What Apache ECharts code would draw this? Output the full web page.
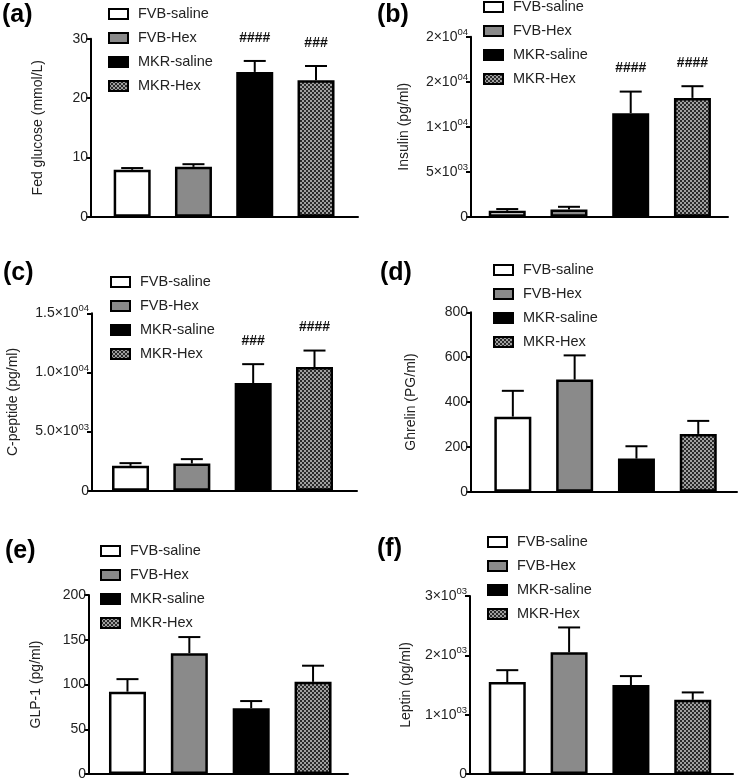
<!DOCTYPE html>
<html>
<head>
<meta charset="utf-8">
<script src="https://cdn.jsdelivr.net/npm/echarts@6/dist/echarts.min.js"></script>
<style>
html,body{margin:0;padding:0;background:#fff;}
#c{width:742px;height:781px;}
</style>
</head>
<body>
<div id="c"></div>
<script>
// ---------- data ----------
const groups = ['FVB-saline', 'FVB-Hex', 'MKR-saline', 'MKR-Hex'];

const glucoseMean = [7.9, 8.4, 24.4, 23.0];
const glucoseSem  = [0.3, 0.45, 1.85, 2.4];
const glucoseSig  = ['', '', '####', '###'];
const glucoseTicks = ['0', '10', '20', '30'];

const insulinMean = [650, 800, 11500, 13200];
const insulinSem  = [200, 300, 2400, 1300];
const insulinSig  = ['', '', '####', '####'];
const insulinTicks = ['0', '5×10^03', '1×10^04', '2×10^04', '2×10^04'];

const cpepMean = [2100, 2300, 9100, 10450];
const cpepSem  = [230, 370, 1600, 1400];
const cpepSig  = ['', '', '###', '####'];
const cpepTicks = ['0', '5.0×10^03', '1.0×10^04', '1.5×10^04'];

const ghrelinMean = [335, 500, 148, 258];
const ghrelinSem  = [115, 108, 55, 58];
const ghrelinSig  = ['', '', '', ''];
const ghrelinTicks = ['0', '200', '400', '600', '800'];

const glp1Mean = [92, 135, 73.5, 103];
const glp1Sem  = [14, 18, 8, 18];
const glp1Sig  = ['', '', '', ''];
const glp1Ticks = ['0', '50', '100', '150', '200'];

const leptinMean = [1550, 2050, 1500, 1250];
const leptinSem  = [200, 420, 150, 125];
const leptinSig  = ['', '', '', ''];
const leptinTicks = ['0', '1×10^03', '2×10^03', '3×10^03'];

// ---------- layout ----------
const panels = [
  {tag:'(a)', name:'Fed glucose (mmol/L)', mean:glucoseMean, sem:glucoseSem, sig:glucoseSig, ticks:glucoseTicks, step:10,
   grid:{left:91, top:38.7, width:267, height:178}, xMin:-0.672, xMax:3.685, nameGap:46,
   legend:{left:108, top:6}, tagPos:[2, 15]},
  {tag:'(b)', name:'Insulin (pg/ml)', mean:insulinMean, sem:insulinSem, sig:insulinSig, ticks:insulinTicks, step:5000,
   grid:{left:471, top:36.7, width:257, height:180}, xMin:-0.587, xMax:3.576, nameGap:60,
   legend:{left:483, top:-1}, tagPos:[377, 15]},
  {tag:'(c)', name:'C-peptide (pg/ml)', mean:cpepMean, sem:cpepSem, sig:cpepSig, ticks:cpepTicks, step:5000,
   grid:{left:92, top:313.3, width:265, height:177.4}, xMin:-0.628, xMax:3.693, nameGap:72,
   legend:{left:110, top:274}, tagPos:[3, 273]},
  {tag:'(d)', name:'Ghrelin (PG/ml)', mean:ghrelinMean, sem:ghrelinSem, sig:ghrelinSig, ticks:ghrelinTicks, step:200,
   grid:{left:471, top:312.3, width:266, height:179.5}, xMin:-0.677, xMax:3.627, nameGap:53,
   legend:{left:493, top:262}, tagPos:[380, 273]},
  {tag:'(e)', name:'GLP-1 (pg/ml)', mean:glp1Mean, sem:glp1Sem, sig:glp1Sig, ticks:glp1Ticks, step:50,
   grid:{left:89, top:595, width:259, height:179}, xMin:-0.622, xMax:3.565, nameGap:46,
   legend:{left:100, top:543}, tagPos:[5, 551]},
  {tag:'(f)', name:'Leptin (pg/ml)', mean:leptinMean, sem:leptinSem, sig:leptinSig, ticks:leptinTicks, step:1000,
   grid:{left:470, top:596, width:263, height:178}, xMin:-0.603, xMax:3.651, nameGap:57,
   legend:{left:487, top:534}, tagPos:[377, 549]}
];

const FONT = '"Liberation Sans", Arial, Helvetica, sans-serif';

// checker pattern for MKR-Hex
const pc = document.createElement('canvas');
pc.width = 4; pc.height = 4;
const pctx = pc.getContext('2d');
pctx.fillStyle = '#a0a0a0'; pctx.fillRect(0, 0, 4, 4);
pctx.fillStyle = '#2a2a2a'; pctx.fillRect(0, 0, 2, 2); pctx.fillRect(2, 2, 2, 2);

const fills = ['#ffffff', '#8a8a8a', '#000000', {image: pc, repeat: 'repeat'}];

function fmtTick(s) {
  if (s.indexOf('^') >= 0) {
    const p = s.split('^');
    return '{m|' + p[0] + '}{e|' + p[1] + '}';
  }
  return '{m|' + s + '}';
}

const grid = [], xAxis = [], yAxis = [], legend = [], series = [], graphic = [];

panels.forEach((P, k) => {
  grid.push(Object.assign({containLabel:false}, P.grid));
  xAxis.push({
    type:'value', gridIndex:k, min:P.xMin, max:P.xMax,
    axisLine:{show:true, onZero:false, lineStyle:{color:'#000', width:2}},
    axisTick:{show:false}, axisLabel:{show:false}, splitLine:{show:false}
  });
  const ticks = P.ticks;
  yAxis.push({
    type:'value', gridIndex:k, min:0, max:P.step * (ticks.length - 1), interval:P.step,
    name:P.name, nameLocation:'middle', nameGap:P.nameGap, nameRotate:90,
    nameTextStyle:{fontFamily:FONT, fontSize:14, color:'#222'},
    axisLine:{show:true, onZero:false, lineStyle:{color:'#000', width:2}},
    axisTick:{show:true, length:5, lineStyle:{color:'#000', width:2}},
    splitLine:{show:false},
    axisLabel:{
      margin:3, fontFamily:FONT, color:'#222',
      formatter:(v) => fmtTick(ticks[Math.round(v / P.step)] || ''),
      rich:{
        m:{fontFamily:FONT, fontSize:14, color:'#222'},
        e:{fontFamily:FONT, fontSize:9.5, color:'#222', padding:[0,0,9,0]}
      }
    }
  });
  legend.push({
    left:P.legend.left, top:P.legend.top, orient:'vertical', padding:0,
    itemWidth:19, itemHeight:10, itemGap:8, icon:'rect',
    data:groups.slice(),
    selectedMode:false,
    itemStyle:{borderColor:'#000', borderWidth:2},
    textStyle:{fontFamily:FONT, fontSize:14.5, color:'#222', lineHeight:16, padding:[0,0,0,5]}
  });
  groups.forEach((g, i) => {
    series.push({
      type:'bar', name:g, xAxisIndex:k, yAxisIndex:k,
      barWidth:37, barGap:'-100%',
      itemStyle:{color:fills[i], borderColor:'#000', borderWidth:2.5},
      data:[[i, P.mean[i]]],
      z:3, animation:false
    });
  });
  series.push({
    type:'custom', xAxisIndex:k, yAxisIndex:k, clip:false, z:2, animation:false,
    data:P.mean.map((m, i) => [i, m, P.sem[i]]),
    renderItem:(params, api) => {
      const x = api.value(0), m = api.value(1), s = api.value(2);
      const p0 = api.coord([x, m]);
      const p1 = api.coord([x, m + s]);
      const children = [
        {type:'line', shape:{x1:p0[0], y1:p0[1], x2:p1[0], y2:p1[1]}, style:{stroke:'#000', lineWidth:2}},
        {type:'line', shape:{x1:p1[0] - 11, y1:p1[1], x2:p1[0] + 11, y2:p1[1]}, style:{stroke:'#000', lineWidth:2}}
      ];
      const t = P.sig[params.dataIndex];
      if (t) {
        children.push({type:'text', x:p1[0], y:p1[1] - 23, z2:10,
          style:{text:t, fontFamily:FONT, fontSize:14, fontWeight:'bold', fill:'#111', align:'center', verticalAlign:'middle'}});
      }
      return {type:'group', children:children};
    }
  });
  graphic.push({type:'text', left:P.tagPos[0], top:P.tagPos[1] - 12,
    style:{text:P.tag, fontFamily:FONT, fontSize:25, fontWeight:'bold', fill:'#000'}});
});

const chart = echarts.init(document.getElementById('c'), null, {renderer:'canvas'});
chart.setOption({
  animation:false,
  backgroundColor:'#fff',
  grid:grid, xAxis:xAxis, yAxis:yAxis, legend:legend, series:series, graphic:graphic
});
</script>
</body>
</html>
